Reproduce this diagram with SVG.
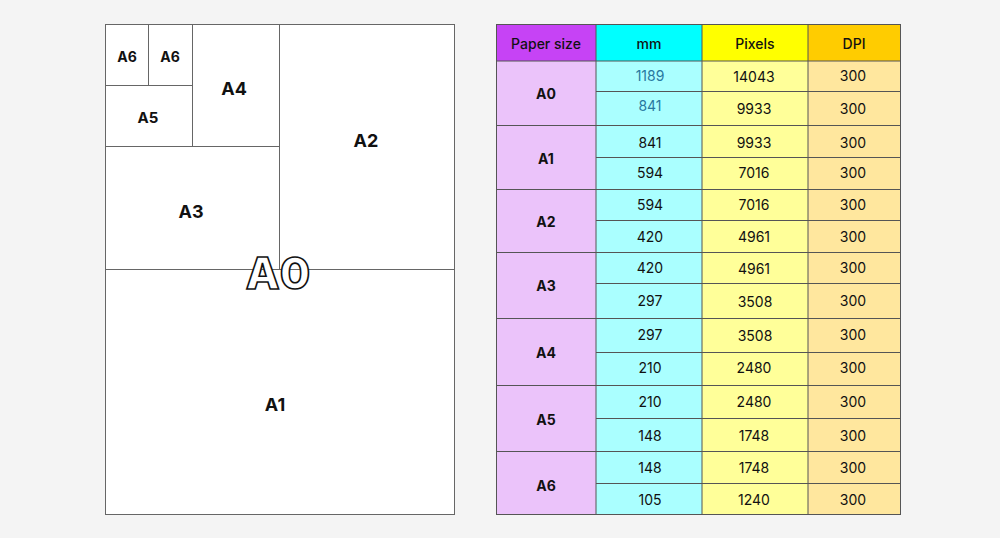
<svg xmlns="http://www.w3.org/2000/svg" width="1000" height="538" viewBox="0 0 1000 538">
<style>
.ln{stroke:#666;stroke-width:1;fill:none}
.lb{font-family:Inter,"Liberation Sans",sans-serif;font-weight:700;fill:#111;text-anchor:middle;dominant-baseline:central}
.t{font-family:Inter,"Liberation Sans",sans-serif;font-size:14px;fill:#111;text-anchor:middle;dominant-baseline:central}
.h{font-family:Inter,"Liberation Sans",sans-serif;font-size:14px;font-weight:500;fill:#111;text-anchor:middle;dominant-baseline:central}
.g{stroke:#555;stroke-width:1;fill:none}
</style>
<rect width="1000" height="538" fill="#F4F4F4"/>
<g id="sheets">
<rect x="105.5" y="24.5" width="349" height="490" class="ln" style="fill:#fff"/>
<line x1="279.5" y1="24" x2="279.5" y2="269" class="ln"/>
<line x1="105" y1="269.5" x2="454" y2="269.5" class="ln"/>
<line x1="105" y1="146.5" x2="279" y2="146.5" class="ln"/>
<line x1="192.5" y1="24" x2="192.5" y2="146" class="ln"/>
<line x1="105" y1="85.5" x2="192" y2="85.5" class="ln"/>
<line x1="148.5" y1="24" x2="148.5" y2="85" class="ln"/>
<text class="lb" x="127" y="56" font-size="14">A6</text>
<text class="lb" x="170" y="56" font-size="14">A6</text>
<text class="lb" x="148" y="117" font-size="15">A5</text>
<text class="lb" x="234" y="88" font-size="18">A4</text>
<text class="lb" x="366" y="140" font-size="18">A2</text>
<text class="lb" x="191" y="211" font-size="18">A3</text>
<text class="lb" x="275" y="404" font-size="18">A1</text>
<text x="278" y="273" font-family="Inter,'Liberation Sans',sans-serif" font-weight="800" font-size="44" fill="#fff" stroke="#111" stroke-width="1.6" text-anchor="middle" dominant-baseline="central">A0</text>
</g>
<g id="table">
<rect x="496" y="24" width="100" height="37" fill="#C643F5"/>
<rect x="596" y="24" width="106" height="37" fill="#00FFFF"/>
<rect x="702" y="24" width="106" height="37" fill="#FFFF00"/>
<rect x="808" y="24" width="93" height="37" fill="#FFCC00"/>
<rect x="496" y="61" width="100" height="453" fill="#EBC3FA"/>
<rect x="596" y="61" width="106" height="453" fill="#AAFFFF"/>
<rect x="702" y="61" width="106" height="453" fill="#FFFF99"/>
<rect x="808" y="61" width="93" height="453" fill="#FFE79E"/>
<g class="g">
<rect x="496.5" y="24.5" width="404" height="490"/>
<line x1="596" y1="24" x2="596" y2="514"/>
<line x1="702" y1="24" x2="702" y2="514"/>
<line x1="808" y1="24" x2="808" y2="514"/>
<line x1="496" y1="61" x2="901" y2="61"/>
<line x1="496" y1="125.5" x2="901" y2="125.5"/>
<line x1="496" y1="189.5" x2="901" y2="189.5"/>
<line x1="496" y1="252.5" x2="901" y2="252.5"/>
<line x1="496" y1="318.5" x2="901" y2="318.5"/>
<line x1="496" y1="385.5" x2="901" y2="385.5"/>
<line x1="496" y1="451.5" x2="901" y2="451.5"/>
<line x1="596" y1="91.5" x2="901" y2="91.5"/>
<line x1="596" y1="157.5" x2="901" y2="157.5"/>
<line x1="596" y1="220.5" x2="901" y2="220.5"/>
<line x1="596" y1="283.5" x2="901" y2="283.5"/>
<line x1="596" y1="352.5" x2="901" y2="352.5"/>
<line x1="596" y1="418.5" x2="901" y2="418.5"/>
<line x1="596" y1="483.5" x2="901" y2="483.5"/>
</g>
<text class="h" x="546" y="43">Paper size</text>
<text class="h" x="649" y="43">mm</text>
<text class="h" x="755" y="43">Pixels</text>
<text class="h" x="854" y="43">DPI</text>
<g font-weight="700">
<text class="t" x="546" y="93" font-weight="700">A0</text>
<text class="t" x="546" y="158" font-weight="700">A1</text>
<text class="t" x="546" y="221" font-weight="700">A2</text>
<text class="t" x="546" y="285" font-weight="700">A3</text>
<text class="t" x="546" y="352" font-weight="700">A4</text>
<text class="t" x="546" y="419" font-weight="700">A5</text>
<text class="t" x="546" y="485" font-weight="700">A6</text>
</g>
<text class="t" x="650" y="75" style="fill:#2878A0">1189</text>
<text class="t" x="650" y="105" style="fill:#2878A0">841</text>
<text class="t" x="754" y="76">14043</text>
<text class="t" x="754" y="108">9933</text>
<text class="t" x="853" y="75">300</text>
<text class="t" x="853" y="108">300</text>
<text class="t" x="650" y="142">841</text><text class="t" x="754" y="142">9933</text><text class="t" x="853" y="142">300</text>
<text class="t" x="650" y="172">594</text><text class="t" x="754" y="172">7016</text><text class="t" x="853" y="172">300</text>
<text class="t" x="650" y="204">594</text><text class="t" x="754" y="204">7016</text><text class="t" x="853" y="204">300</text>
<text class="t" x="650" y="236">420</text><text class="t" x="754" y="236">4961</text><text class="t" x="853" y="236">300</text>
<text class="t" x="650" y="267">420</text><text class="t" x="754" y="268">4961</text><text class="t" x="853" y="267">300</text>
<text class="t" x="650" y="300">297</text><text class="t" x="755" y="301">3508</text><text class="t" x="853" y="300">300</text>
<text class="t" x="650" y="334">297</text><text class="t" x="755" y="335">3508</text><text class="t" x="853" y="334">300</text>
<text class="t" x="650" y="367">210</text><text class="t" x="754" y="367">2480</text><text class="t" x="853" y="367">300</text>
<text class="t" x="650" y="401">210</text><text class="t" x="754" y="401">2480</text><text class="t" x="853" y="401">300</text>
<text class="t" x="650" y="435">148</text><text class="t" x="754" y="435">1748</text><text class="t" x="853" y="435">300</text>
<text class="t" x="650" y="467">148</text><text class="t" x="754" y="467">1748</text><text class="t" x="853" y="467">300</text>
<text class="t" x="650" y="499">105</text><text class="t" x="754" y="499">1240</text><text class="t" x="853" y="499">300</text>
</g>
</svg>
